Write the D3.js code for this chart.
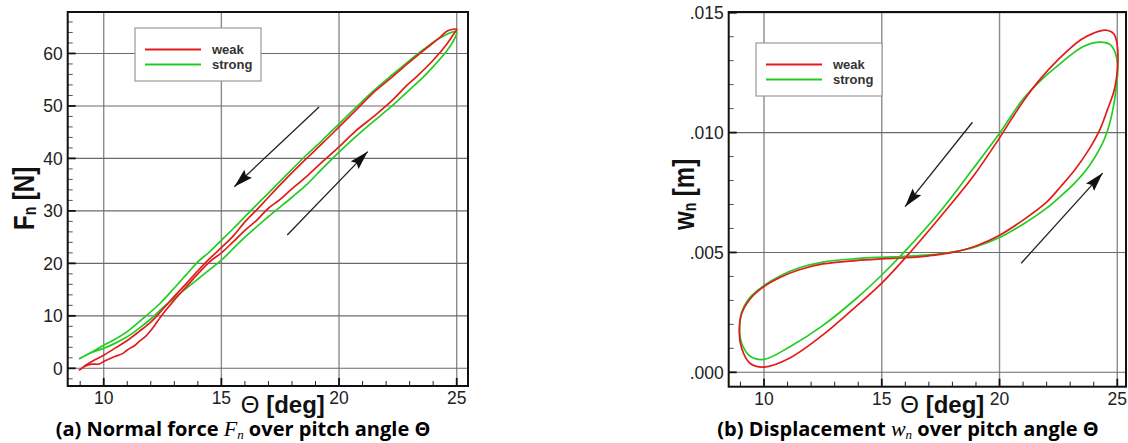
<!DOCTYPE html>
<html>
<head>
<meta charset="utf-8">
<script src="https://cdn.jsdelivr.net/npm/d3@7"></script>
<style>
  html, body { margin: 0; padding: 0; background: #fff; }
  svg { display: block; }
</style>
</head>
<body>
<svg id="fig" width="1128" height="443"></svg>
<script>
// ---- tick values and labels ----
const thetaTicks = [10, 15, 20, 25];
const thetaTickLabels = ["10", "15", "20", "25"];
const forceTicks = [0, 10, 20, 30, 40, 50, 60];
const forceTickLabels = ["0", "10", "20", "30", "40", "50", "60"];
const dispTicks = [0, 0.005, 0.010, 0.015];
const dispTickLabels = [".000", ".005", ".010", ".015"];

const seriesNames = ["weak", "strong"];
const seriesColors = ["#e31b1b", "#22cc22"];

// ---- (a) normal force loops: pitch angle [deg] / force [N], in path order ----
const weakForceTheta = [8.95, 9.2, 9.5, 9.8, 10.0, 10.3, 10.5, 10.8, 11.0, 11.3, 11.5, 11.8, 12.0, 12.2, 12.4, 12.7, 13.0, 13.5, 14.0, 14.5, 15.0, 15.5, 16.0, 16.5, 17.0, 17.5, 17.9, 18.6, 19.3, 20.0, 20.7, 21.45, 22.2, 22.9, 23.3, 24.0, 24.6, 24.9, 25.0,
  24.6, 24.3, 23.6, 22.9, 22.2, 21.45, 20.74, 20.0, 19.3, 18.6, 17.9, 17.0, 16.5, 16.0, 15.5, 15.0, 14.5, 14.0, 13.5, 13.0, 12.5, 12.0, 11.5, 11.0, 10.5, 10.0, 9.5, 9.2, 8.95];
const weakForceValue = [-0.4, 0.4, 0.8, 0.8, 1.3, 1.9, 2.3, 2.8, 3.5, 4.3, 5.1, 6.2, 7.2, 8.4, 9.7, 11.4, 13.0, 15.5, 18.0, 20.3, 22.0, 24.1, 26.3, 28.2, 30.5, 32.2, 33.8, 36.5, 39.4, 42.2, 45.2, 47.9, 50.8, 54.0, 55.6, 58.7, 61.9, 63.9, 64.6,
  64.3, 63.1, 60.6, 58.0, 55.3, 52.5, 49.3, 46.0, 42.9, 39.9, 36.8, 32.6, 30.2, 27.9, 25.2, 23.0, 20.9, 18.6, 16.1, 13.7, 11.2, 8.8, 7.0, 5.3, 3.9, 2.5, 1.3, 0.5, -0.4];

const strongForceTheta = [8.95, 9.5, 10.0, 10.5, 11.0, 11.5, 12.0, 12.5, 13.0, 13.5, 14.0, 14.5, 15.0, 15.5, 16.0, 17.0, 18.0, 18.6, 19.3, 20.0, 20.7, 21.45, 22.2, 22.9, 23.6, 24.0, 24.6, 24.93, 25.0,
  24.96, 24.3, 23.6, 22.9, 22.2, 21.45, 20.74, 20.0, 19.3, 18.6, 18.0, 17.0, 16.0, 15.5, 15.0, 14.5, 14.0, 13.5, 13.0, 12.4, 11.7, 11.0, 10.5, 10.0, 9.5, 8.95];
const strongForceValue = [1.8, 3.0, 3.8, 4.8, 6.0, 7.6, 9.4, 11.5, 13.4, 15.2, 17.0, 18.8, 20.6, 22.8, 25.0, 28.9, 32.6, 34.9, 38.1, 41.2, 44.1, 47.0, 49.8, 52.7, 55.6, 57.5, 60.6, 63.0, 64.0,
  64.2, 63.0, 60.8, 58.3, 55.7, 52.8, 49.8, 46.6, 43.5, 40.6, 37.9, 33.4, 28.9, 26.6, 24.4, 22.2, 20.3, 17.8, 15.3, 12.4, 9.6, 7.0, 5.6, 4.4, 3.1, 1.8];

// ---- (b) displacement loops: pitch angle [deg] / displacement [mm], closed paths ----
const weakDispTheta = [8.95, 9.05, 9.4, 10.0, 10.7, 11.5, 12.5, 13.9, 15.0, 16.0, 17.0, 18.0, 19.0, 20.0, 21.0, 22.0, 22.6, 23.2, 23.8, 24.25, 24.6, 24.85, 24.98, 25.03, 24.99, 24.85, 24.49, 24.0, 23.45, 22.5, 21.7, 21.0, 20.5, 20.0, 18.9, 17.5, 16.2, 15.0, 13.9, 12.5, 11.1, 10.0, 9.4, 9.05];
const weakDispMm = [1.65, 2.45, 3.05, 3.58, 3.97, 4.28, 4.52, 4.66, 4.73, 4.78, 4.86, 5.0, 5.27, 5.72, 6.35, 7.1, 7.75, 8.45, 9.3, 10.1, 11.0, 11.7, 12.4, 13.05, 13.7, 14.12, 14.27, 14.15, 13.87, 13.05, 12.2, 11.3, 10.55, 9.78, 8.2, 6.5, 5.0, 3.72, 2.74, 1.56, 0.6, 0.22, 0.38, 1.0];

const strongDispTheta = [8.97, 9.05, 9.4, 10.0, 10.7, 11.5, 12.5, 13.9, 15.0, 16.0, 17.0, 18.0, 19.0, 20.0, 21.0, 22.0, 22.6, 23.2, 23.8, 24.3, 24.56, 24.78, 24.96, 25.02, 24.92, 24.71, 24.3, 23.56, 22.42, 21.72, 21.0, 20.0, 18.89, 17.47, 16.06, 15.0, 13.93, 12.52, 11.1, 10.0, 9.4, 9.05];
const strongDispMm = [1.65, 2.5, 3.12, 3.62, 4.03, 4.36, 4.6, 4.74, 4.8, 4.84, 4.9, 5.02, 5.24, 5.62, 6.18, 6.85, 7.35, 7.9, 8.6, 9.4, 10.0, 10.8, 11.9, 12.75, 13.31, 13.66, 13.77, 13.59, 12.75, 12.15, 11.4, 9.97, 8.51, 6.7, 5.13, 4.06, 3.09, 1.97, 1.07, 0.54, 0.68, 1.21];

// ---- direction arrows (pitch angle, value) ----
const forceArrowFrom = [[19.15, 49.8], [17.8, 25.4]];
const forceArrowTo = [[15.55, 34.6], [21.22, 41.3]];
const dispArrowFrom = [[18.85, 0.01043], [20.92, 0.00455]];
const dispArrowTo = [[15.99, 0.00691], [24.38, 0.00831]];

const svg = d3.select("#fig");
const defs = svg.append("defs");
defs.append("marker")
  .attr("id", "head")
  .attr("markerUnits", "userSpaceOnUse")
  .attr("markerWidth", 20).attr("markerHeight", 12)
  .attr("refX", 19).attr("refY", 6)
  .attr("orient", "auto")
  .append("path")
  .attr("d", "M0,0.5 L19,6 L0,11.5 L3,6 Z")
  .attr("fill", "#111");

const sans = "'Liberation Sans', Arial, sans-serif";

function drawPanel(cfg) {
  const g = svg.append("g");
  const x = d3.scaleLinear().domain(cfg.xDomain).range([cfg.x0, cfg.x1]);
  const y = d3.scaleLinear().domain(cfg.yDomain).range([cfg.y1, cfg.y0]);

  // grid
  g.append("g").selectAll("line").data(thetaTicks).join("line")
    .attr("x1", d => x(d)).attr("x2", d => x(d))
    .attr("y1", cfg.y0).attr("y2", cfg.y1)
    .attr("stroke", "#8c8c8c").attr("stroke-width", 1.4);
  g.append("g").selectAll("line").data(cfg.yTicks).join("line")
    .attr("x1", cfg.x0).attr("x2", cfg.x1)
    .attr("y1", d => y(d)).attr("y2", d => y(d))
    .attr("stroke", "#6a6a6a").attr("stroke-width", 1.1);

  // curves
  const line = d3.line().x(d => x(d[0])).y(d => y(d[1]))
    .curve(cfg.closed ? d3.curveCatmullRomClosed.alpha(0.5) : d3.curveCatmullRom.alpha(0.5));
  cfg.series.slice().reverse().forEach(s => {
    const pts = s.theta.map((t, i) => [t, s.value[i]]);
    g.append("path").attr("d", line(pts))
      .attr("fill", "none").attr("stroke", s.color)
      .attr("stroke-width", 1.7).attr("stroke-linejoin", "round");
  });

  // arrows
  cfg.arrowFrom.forEach((a, i) => {
    const b = cfg.arrowTo[i];
    g.append("line")
      .attr("x1", x(a[0])).attr("y1", y(a[1]))
      .attr("x2", x(b[0])).attr("y2", y(b[1]))
      .attr("stroke", "#222").attr("stroke-width", 1.3)
      .attr("marker-end", "url(#head)");
  });

  // ticks (inside)
  const xMinor = d3.range(Math.ceil(cfg.xDomain[0]), Math.floor(cfg.xDomain[1]) + 1).filter(v => !thetaTicks.includes(v));
  g.append("g").selectAll("line").data(xMinor).join("line")
    .attr("x1", d => x(d)).attr("x2", d => x(d))
    .attr("y1", cfg.y1).attr("y2", cfg.y1 - 5)
    .attr("stroke", "#222").attr("stroke-width", 1);
  g.append("g").selectAll("line").data(thetaTicks).join("line")
    .attr("x1", d => x(d)).attr("x2", d => x(d))
    .attr("y1", cfg.y1).attr("y2", cfg.y1 - 8)
    .attr("stroke", "#111").attr("stroke-width", 1.8);
  g.append("g").selectAll("line").data(cfg.yMinor).join("line")
    .attr("x1", cfg.x0).attr("x2", cfg.x0 + 5)
    .attr("y1", d => y(d)).attr("y2", d => y(d))
    .attr("stroke", "#555").attr("stroke-width", 1);
  g.append("g").selectAll("line").data(cfg.yTicks).join("line")
    .attr("x1", cfg.x0).attr("x2", cfg.x0 + 8)
    .attr("y1", d => y(d)).attr("y2", d => y(d))
    .attr("stroke", "#111").attr("stroke-width", 1.8);

  // frame
  g.append("rect")
    .attr("x", cfg.x0).attr("y", cfg.y0)
    .attr("width", cfg.x1 - cfg.x0).attr("height", cfg.y1 - cfg.y0)
    .attr("fill", "none").attr("stroke", "#111").attr("stroke-width", 2);

  // tick labels
  g.append("g").selectAll("text").data(thetaTicks).join("text")
    .attr("x", d => x(d)).attr("y", cfg.y1 + 18)
    .attr("text-anchor", "middle")
    .attr("font-family", sans).attr("font-size", 17.5).attr("fill", "#222")
    .text((d, i) => thetaTickLabels[i]);
  g.append("g").selectAll("text").data(cfg.yTicks).join("text")
    .attr("x", cfg.x0 - 5).attr("y", d => y(d)).attr("dy", "0.36em")
    .attr("text-anchor", "end")
    .attr("font-family", sans).attr("font-size", 17.5).attr("fill", "#222")
    .text((d, i) => cfg.yTickLabels[i]);

  // legend
  const lg = g.append("g");
  lg.append("rect")
    .attr("x", cfg.legend[0]).attr("y", cfg.legend[1])
    .attr("width", 126).attr("height", 53)
    .attr("fill", "#fff").attr("stroke", "#9a9a9a").attr("stroke-width", 1.2);
  cfg.series.forEach((s, i) => {
    const ly = cfg.legend[1] + 21.5 + i * 15;
    lg.append("line")
      .attr("x1", cfg.legend[0] + 10).attr("x2", cfg.legend[0] + 66)
      .attr("y1", ly).attr("y2", ly)
      .attr("stroke", s.color).attr("stroke-width", 2);
    lg.append("text")
      .attr("x", cfg.legend[0] + 77).attr("y", ly + 4.5)
      .attr("font-family", sans).attr("font-weight", "bold").attr("font-size", 13)
      .attr("fill", "#333").text(s.name);
  });

  // x axis title
  const xt = g.append("text")
    .attr("x", (cfg.x0 + cfg.x1) / 2 + 15).attr("y", 412.5)
    .attr("text-anchor", "middle")
    .attr("font-family", sans).attr("font-size", 24).attr("fill", "#111");
  xt.append("tspan").attr("font-weight", "normal").text("\u0398 ");
  xt.append("tspan").attr("font-weight", "bold").text("[deg]");

  // y axis title (rotated, glyphs stretched across the axis)
  const yt = g.append("text")
    .attr("transform", `translate(${cfg.yTitleX},230) rotate(-90) scale(1,1.25)`)
    .attr("text-anchor", "start")
    .attr("font-family", sans).attr("font-weight", "bold").attr("font-size", 24).attr("fill", "#111");
  yt.append("tspan").text(cfg.yTitle[0]);
  yt.append("tspan").attr("font-size", 14).attr("dy", 2).text(cfg.yTitle[1]);
  yt.append("tspan").attr("dy", -2).text(" " + cfg.yTitle[2]);

  // caption
  const cap = g.append("text")
    .attr("x", cfg.captionX).attr("y", 436)
    .attr("text-anchor", "middle")
    .attr("font-family", "'Open Sans', sans-serif").attr("font-weight", "bold")
    .attr("font-size", 20).attr("fill", "#000");
  cap.append("tspan").text(cfg.caption[0]);
  cap.append("tspan").attr("font-family", "'Liberation Serif', serif").attr("font-style", "italic")
    .attr("font-weight", "normal").attr("font-size", 22).text(cfg.caption[1]);
  cap.append("tspan").attr("font-family", "'Liberation Serif', serif").attr("font-style", "italic")
    .attr("font-weight", "normal").attr("font-size", 13).attr("dy", 3).text(cfg.caption[2]);
  cap.append("tspan").attr("dy", -3).text(cfg.caption[3]);
}

drawPanel({
  x0: 67.7, x1: 468, y0: 12, y1: 386,
  xDomain: [8.47, 25.48], yDomain: [-3.37, 67.9],
  yTicks: forceTicks, yTickLabels: forceTickLabels,
  yMinor: d3.range(-2, 68, 2).filter(v => v % 10 !== 0),
  series: [
    { name: seriesNames[0], color: seriesColors[0], theta: weakForceTheta, value: weakForceValue },
    { name: seriesNames[1], color: seriesColors[1], theta: strongForceTheta, value: strongForceValue }
  ],
  closed: false,
  arrowFrom: forceArrowFrom, arrowTo: forceArrowTo,
  legend: [135, 28],
  yTitleX: 33.5, yTitle: ["F", "n", "[N]"],
  captionX: 243,
  caption: ["(a) Normal force ", "F", "n", " over pitch angle \u0398"]
});

drawPanel({
  x0: 728.7, x1: 1126, y0: 12, y1: 386.7,
  xDomain: [8.501, 25.37], yDomain: [-0.0006, 0.01503],
  yTicks: dispTicks, yTickLabels: dispTickLabels,
  yMinor: d3.range(1, 15).filter(v => v % 5 !== 0).map(v => v / 1000),
  series: [
    { name: seriesNames[0], color: seriesColors[0], theta: weakDispTheta, value: weakDispMm.map(v => v / 1000) },
    { name: seriesNames[1], color: seriesColors[1], theta: strongDispTheta, value: strongDispMm.map(v => v / 1000) }
  ],
  closed: true,
  arrowFrom: dispArrowFrom, arrowTo: dispArrowTo,
  legend: [756, 43],
  yTitleX: 693.5, yTitle: ["w", "n", "[m]"],
  captionX: 908,
  caption: ["(b) Displacement ", "w", "n", " over pitch angle \u0398"]
});
</script>
</body>
</html>
